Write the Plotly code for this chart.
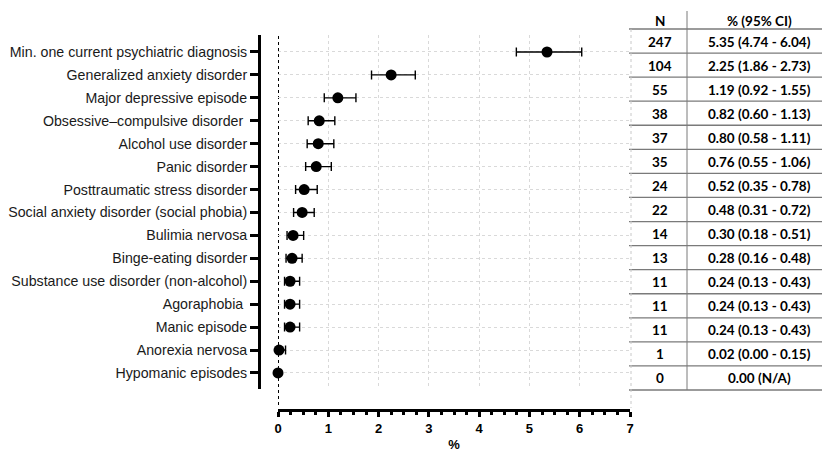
import plotly.graph_objects as go

labels = [
    "Min. one current psychiatric diagnosis",
    "Generalized anxiety disorder",
    "Major depressive episode",
    "Obsessive\u2013compulsive disorder\u00a0",
    "Alcohol use disorder",
    "Panic disorder",
    "Posttraumatic stress disorder",
    "Social anxiety disorder (social phobia)",
    "Bulimia nervosa",
    "Binge-eating disorder",
    "Substance use disorder (non-alcohol)",
    "Agoraphobia\u00a0",
    "Manic episode",
    "Anorexia nervosa",
    "Hypomanic episodes",
]
n_values = [247, 104, 55, 38, 37, 35, 24, 22, 14, 13, 11, 11, 11, 1, 0]
pct = [5.35, 2.25, 1.19, 0.82, 0.80, 0.76, 0.52, 0.48, 0.30, 0.28, 0.24, 0.24, 0.24, 0.02, 0.00]
ci_low = [4.74, 1.86, 0.92, 0.60, 0.58, 0.55, 0.35, 0.31, 0.18, 0.16, 0.13, 0.13, 0.13, 0.00, None]
ci_high = [6.04, 2.73, 1.55, 1.13, 1.11, 1.06, 0.78, 0.72, 0.51, 0.48, 0.43, 0.43, 0.43, 0.15, None]
x_ticks = [0, 1, 2, 3, 4, 5, 6, 7]
table_header = ["N", "% (95% CI)"]

err_plus = [(h - p) if h is not None else 0 for p, h in zip(pct, ci_high)]
err_minus = [(p - l) if l is not None else 0 for p, l in zip(pct, ci_low)]

ci_text = [
    f"{p:.2f} ({l:.2f} - {h:.2f})" if l is not None else f"{p:.2f} (N/A)"
    for p, l, h in zip(pct, ci_low, ci_high)
]
n_text = [str(n) for n in n_values]

W, H = 822, 452
ML = 240
PW = W - ML


def px_x(px):
    return (px - ML) / PW


def px_y(py):
    return 1 - py / H


fig = go.Figure()

fig.add_trace(go.Scatter(
    x=pct, y=labels, mode="markers",
    marker=dict(color="black", size=11),
    error_x=dict(type="data", symmetric=False, array=err_plus, arrayminus=err_minus,
                 color="black", thickness=1.4, width=4.5),
    cliponaxis=False, showlegend=False,
))

gridc = "#d9d9d9"
lab_font = "Liberation Sans, Arial"
fig.update_layout(
    width=W, height=H,
    margin=dict(l=ML, r=0, t=0, b=0, autoexpand=False),
    plot_bgcolor="white", paper_bgcolor="white",
    font=dict(family=lab_font, size=14, color="#1a1a1a"),
    xaxis=dict(
        domain=[px_x(278), px_x(630)], range=[0, 7],
        anchor="free", position=px_y(410), automargin=False,
        tickvals=x_ticks, ticks="outside", ticklen=5, tickwidth=3, tickcolor="black",
        showline=True, linewidth=3, linecolor="black",
        showgrid=True, gridcolor=gridc, griddash="dot", gridwidth=1,
        zeroline=False,
        minor=dict(dtick=0.25, ticks="outside", ticklen=3, tickwidth=2.5,
                   tickcolor="black", showgrid=False),
        tickfont=dict(family=lab_font, size=13, color="black", weight="bold"),
        title=dict(text="<b>%</b>", font=dict(family=lab_font, size=13, color="black"), standoff=12),
    ),
    yaxis=dict(
        domain=[px_y(389), px_y(35)],
        anchor="free", position=px_x(259), automargin=False,
        type="category", categoryorder="array", categoryarray=labels,
        range=[14.70, -0.741],
        ticks="outside", ticklen=8, tickwidth=3, tickcolor="black",
        showline=True, linewidth=3, linecolor="black",
        showgrid=True, gridcolor=gridc, griddash="dot", gridwidth=1,
        tickfont=dict(family=lab_font, size=14.2, color="#1a1a1a"),
    ),
)

# dotted reference line at 0
fig.add_shape(type="line", xref="x", yref="paper", x0=0, x1=0,
              y0=px_y(405), y1=px_y(35),
              line=dict(color="black", width=2, dash="dot"), layer="below")

# ---- table drawn at the right ----
t_left, t_div, t_right = 629, 687, 822
t_head_top, t_body_top, t_bottom = 11, 29, 390
nrows = len(n_values)
row_h = (t_bottom - t_body_top) / nrows
tfont = dict(family="Lato", size=13.5, color="black")
c1 = (t_left + t_div) / 2 + 2
c2 = (t_div + t_right) / 2 + 5

for txt, cx in zip(table_header, [c1, c2]):
    fig.add_annotation(text=f"<b>{txt}</b>", xref="paper", yref="paper",
                       x=px_x(cx), y=px_y((t_head_top + t_body_top) / 2 + 1),
                       showarrow=False, font=tfont, xanchor="center", yanchor="middle")

for i, (nt, ct) in enumerate(zip(n_text, ci_text)):
    cy = t_body_top + row_h * (i + 0.5) + 0.5
    fig.add_annotation(text=f"<b>{nt}</b>", xref="paper", yref="paper",
                       x=px_x(c1), y=px_y(cy), showarrow=False, font=tfont,
                       xanchor="center", yanchor="middle")
    fig.add_annotation(text=f"<b>{ct}</b>", xref="paper", yref="paper",
                       x=px_x(c2), y=px_y(cy), showarrow=False, font=tfont,
                       xanchor="center", yanchor="middle")

for k in range(nrows + 1):
    yy = t_body_top + row_h * k
    fig.add_shape(type="line", xref="paper", yref="paper",
                  x0=px_x(t_left), x1=1, y0=px_y(yy), y1=px_y(yy),
                  line=dict(color="#7a7a7a", width=1.3))

fig.add_shape(type="line", xref="paper", yref="paper",
              x0=px_x(t_div), x1=px_x(t_div), y0=px_y(t_head_top), y1=px_y(t_bottom),
              line=dict(color="#7a7a7a", width=1))
fig.add_shape(type="line", xref="paper", yref="paper",
              x0=px_x(t_left + 2), x1=px_x(t_left + 2), y0=px_y(t_body_top), y1=px_y(t_bottom + 18),
              line=dict(color="#c8c8c8", width=1, dash="dot"))

fig.write_html("out.html", config={"displayModeBar": False},
               post_script="document.body.style.margin='0';document.body.style.overflow='hidden';")
